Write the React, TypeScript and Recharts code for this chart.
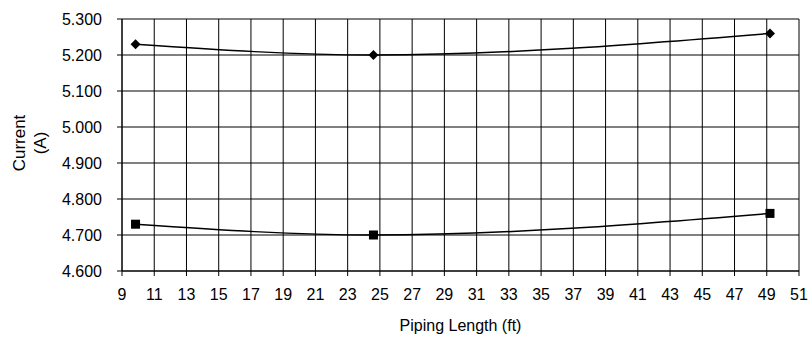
import React from 'react';
import { LineChart, Line, XAxis, YAxis, CartesianGrid, Label } from 'recharts';

// piping lengths (3 m, 7.5 m, 15 m expressed in ft)
const pipingLength = [9.84, 24.6, 49.2];
const currentUpper = [5.23, 5.2, 5.26];
const currentLower = [4.73, 4.7, 4.76];

const xTicks = [9, 11, 13, 15, 17, 19, 21, 23, 25, 27, 29, 31, 33, 35, 37, 39, 41, 43, 45, 47, 49, 51];
const yTicks = [4.6, 4.7, 4.8, 4.9, 5.0, 5.1, 5.2, 5.3];

const FONT = '"Liberation Sans", Arial, sans-serif';

const chartData = pipingLength.map((x, i) => ({
  x,
  upper: currentUpper[i],
  lower: currentLower[i]
}));

const DiamondDot = (props: any) => {
  const { cx, cy, index } = props;
  if (cx == null || cy == null) return null;
  const r = 5;
  return (
    <path
      key={`d-${index}`}
      d={`M${cx},${cy - r}L${cx + r},${cy}L${cx},${cy + r}L${cx - r},${cy}Z`}
      fill="#000"
      stroke="none"
    />
  );
};

const SquareDot = (props: any) => {
  const { cx, cy, index } = props;
  if (cx == null || cy == null) return null;
  const h = 4.5;
  return <rect key={`s-${index}`} x={cx - h} y={cy - h} width={h * 2} height={h * 2} fill="#000" />;
};

const YTitle = () => {
  const cy = 143;
  return (
    <g fontFamily={FONT} fontSize={17} fill="#000">
      <text x={25} y={cy} textAnchor="middle" transform={`rotate(-90, 25, ${cy})`}>
        Current
      </text>
      <text x={46} y={cy} textAnchor="middle" transform={`rotate(-90, 46, ${cy})`}>
        (A)
      </text>
    </g>
  );
};

const App: React.FC = () => {
  return (
    <div style={{ position: 'fixed', left: 0, top: 0, width: 810, height: 338, background: '#fff' }}>
      <LineChart
        width={810}
        height={338}
        data={chartData}
        margin={{ top: 19, right: 11, left: 0, bottom: 0 }}
      >
        <CartesianGrid stroke="#000" strokeWidth={1} />
        <XAxis
          dataKey="x"
          type="number"
          domain={[9, 51]}
          ticks={xTicks}
          interval={0}
          height={67}
          tickSize={5}
          tickMargin={13}
          stroke="#000"
          tick={{ fill: '#000', fontSize: 16, fontFamily: FONT }}
        >
          <Label
            value="Piping Length (ft)"
            position="insideBottom"
            offset={7}
            style={{ fill: '#000', fontSize: 16, fontFamily: FONT }}
          />
        </XAxis>
        <YAxis
          type="number"
          domain={[4.6, 5.3]}
          ticks={yTicks}
          interval={0}
          width={122}
          tickSize={5}
          tickMargin={15}
          stroke="#000"
          tickFormatter={(v: number) => v.toFixed(3)}
          tick={{ fill: '#000', fontSize: 16, fontFamily: FONT }}
        >
          <Label content={<YTitle />} />
        </YAxis>
        <Line
          type="monotone"
          dataKey="upper"
          stroke="#000"
          strokeWidth={1.5}
          dot={DiamondDot}
          activeDot={false}
          isAnimationActive={false}
        />
        <Line
          type="monotone"
          dataKey="lower"
          stroke="#000"
          strokeWidth={1.5}
          dot={SquareDot}
          activeDot={false}
          isAnimationActive={false}
        />
      </LineChart>
    </div>
  );
};

export default App;
